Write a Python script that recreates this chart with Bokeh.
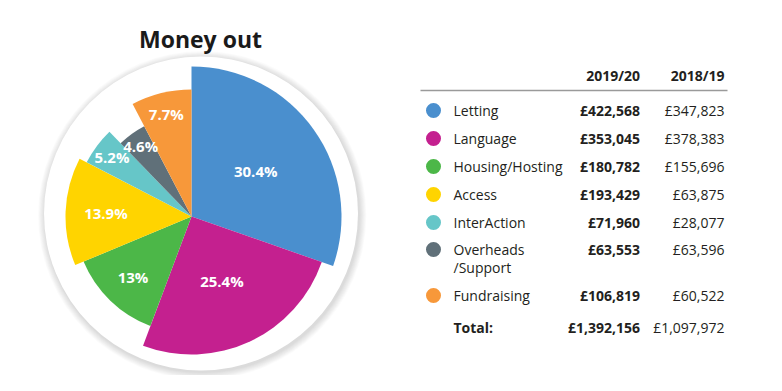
import math
from bokeh.plotting import figure
from bokeh.models import Range1d
from bokeh.core.properties import value
from bokeh.embed import file_html
from bokeh.resources import INLINE

# ---------------- data ----------------
title_text = "Money out"
categories = ["Letting", "Language", "Housing/Hosting", "Access",
              "InterAction", "Overheads\n/Support", "Fundraising"]
spend_2019_20 = [422568, 353045, 180782, 193429, 71960, 63553, 106819]
spend_2018_19 = [347823, 378383, 155696, 63875, 28077, 63596, 60522]
col_headers = ["2019/20", "2018/19"]
total_label = "Total:"

# ---------------- style / layout ----------------
colors = ["#4A8FCE", "#C4208F", "#4CB748", "#FFD400", "#66C6C8", "#607079", "#F7983A"]
slice_radius = [150, 138, 117, 126, 118, 102, 127]      # decorative radii (px)
label_frac = [0.525, 0.52, 0.72, 0.68, 0.84, 0.85, 0.83]  # label distance / radius
FONT = value("Open Sans")
TXT = "#231F20"

W, H = 766, 375
def py(page_y):  # page pixel y -> data y (y up)
    return 391 - page_y

p = figure(width=W, height=H, output_backend="svg", toolbar_location=None,
           x_range=Range1d(0, W), y_range=Range1d(391 - H, 391),
           min_border=0)
p.axis.visible = False
p.grid.visible = False
p.outline_line_color = None
p.background_fill_color = "white"
p.border_fill_color = "white"

# ---------------- title ----------------
p.text(x=[200], y=[py(38.5)], text=[title_text], text_align="center",
       text_baseline="alphabetic", text_font=FONT, text_font_style="bold",
       text_font_size="23px", text_color="#1A1A1A")

# ---------------- backing disc with soft shadow ----------------
bx, by, br = 200.5, py(213), 157
for i in range(1, 10):
    p.circle(x=[bx + 1.2], y=[by - 1.8], radius=br + i * 0.8,
             fill_color="black", fill_alpha=0.015, line_color=None)
p.circle(x=[bx], y=[by], radius=br, fill_color="white", line_color=None)

# ---------------- pie ----------------
cx, cy = 191, py(216)
total = sum(spend_2019_20)
starts, ends, lx, ly, labels = [], [], [], [], []
cum = 0
for v, r, f in zip(spend_2019_20, slice_radius, label_frac):
    t0 = cum / total * 2 * math.pi
    cum += v
    t1 = cum / total * 2 * math.pi
    starts.append(math.pi / 2 - t1)
    ends.append(math.pi / 2 - t0)
    tm = (t0 + t1) / 2
    lx.append(cx + r * f * math.sin(tm))
    ly.append(cy + r * f * math.cos(tm))
    labels.append(f"{round(v / total * 100, 1):g}%")

p.wedge(x=cx, y=cy, radius=slice_radius, start_angle=starts, end_angle=ends,
        fill_color=colors, line_color=None)
p.text(x=lx, y=ly, text=labels, text_align="center", text_baseline="middle",
       text_font=FONT, text_font_style="bold", text_font_size="15px",
       text_color="white")

# ---------------- table ----------------
row_page_y = [110, 138, 166, 194, 222, 249, 295]
total_page_y = 327
dot_x, name_x, c1_x, c2_x = 433, 453, 639.5, 724
line_gap = 18.3

p.text(x=[c1_x, c2_x], y=[py(75)] * 2, text=col_headers, text_align="right",
       text_baseline="middle", text_font=FONT, text_font_style="bold",
       text_font_size="14px", text_color=TXT)
p.segment(x0=[420], y0=[py(90)], x1=[727], y1=[py(90)], line_color="#9A9A9A",
          line_width=1.6)

ry = [py(v) for v in row_page_y]
p.circle(x=[dot_x] * len(ry), y=ry, radius=7.5, fill_color=colors, line_color=None)

nx, ny, nt = [], [], []
for name, y in zip(categories, ry):
    for k, part in enumerate(name.split("\n")):
        nx.append(name_x)
        ny.append(y - k * line_gap)
        nt.append(part)
p.text(x=nx, y=ny, text=nt, text_align="left", text_baseline="middle",
       text_font=FONT, text_font_size="14px", text_color=TXT)

p.text(x=[c1_x] * len(ry), y=ry, text=[f"£{v:,}" for v in spend_2019_20],
       text_align="right", text_baseline="middle", text_font=FONT,
       text_font_style="bold", text_font_size="14px", text_color=TXT)
p.text(x=[c2_x] * len(ry), y=ry, text=[f"£{v:,}" for v in spend_2018_19],
       text_align="right", text_baseline="middle", text_font=FONT,
       text_font_size="14px", text_color=TXT)

ty = py(total_page_y)
p.text(x=[name_x], y=[ty], text=[total_label], text_align="left",
       text_baseline="middle", text_font=FONT, text_font_style="bold",
       text_font_size="14px", text_color=TXT)
p.text(x=[c1_x], y=[ty], text=[f"£{sum(spend_2019_20):,}"], text_align="right",
       text_baseline="middle", text_font=FONT, text_font_style="bold",
       text_font_size="14px", text_color=TXT)
p.text(x=[c2_x], y=[ty], text=[f"£{sum(spend_2018_19):,}"], text_align="right",
       text_baseline="middle", text_font=FONT, text_font_size="14px",
       text_color=TXT)

open("out.html", "w").write(file_html(p, INLINE))
